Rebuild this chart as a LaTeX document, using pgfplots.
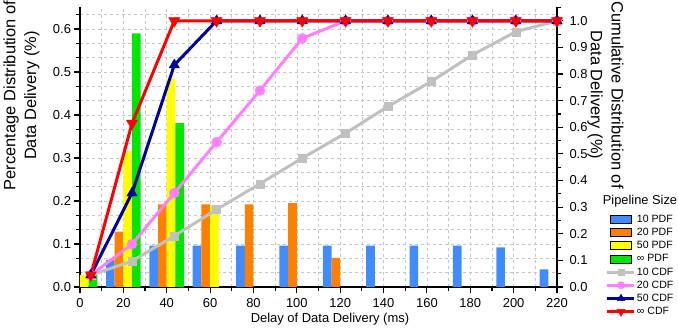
\documentclass[border=0pt]{standalone}
\usepackage{fontspec}
\setmainfont{Liberation Sans}
\usepackage{pgfplots}
\pgfplotsset{compat=1.18}
\definecolor{c10}{RGB}{64,140,255}
\definecolor{c20}{RGB}{255,128,0}
\definecolor{c50}{RGB}{255,255,0}
\definecolor{cinf}{RGB}{0,230,0}
\definecolor{l10}{RGB}{192,192,192}
\definecolor{l20}{RGB}{255,128,255}
\definecolor{l50}{RGB}{0,0,160}
\definecolor{linf}{RGB}{255,0,0}
\pgfplotsset{
  common/.style={width=477bp,height=279.5bp,scale only axis, xmin=0,xmax=220,
    tick align=outside, major tick length=5.5bp, minor tick length=3.5bp,
    every tick/.style={black, line width=1.1bp},
    axis line style={line width=1.7bp},
    tick label style={font=\fontsize{13}{15}\selectfont},
    /pgf/number format/assume math mode=true,
  },
  barleg/.style={legend image code/.code={\fill[##1] (3bp,-4bp) rectangle (24bp,4bp);}},
  lineleg/.style={legend image code/.code={\draw[mark repeat=2,mark phase=2,##1, every mark/.append style={scale=0.72}] plot coordinates {(0bp,0bp) (13.5bp,0bp) (27bp,0bp)};}},
}
\begin{document}
\begin{tikzpicture}
\path[use as bounding box] (-80bp,-48bp) rectangle (598bp,287bp);
\begin{axis}[common, ymin=0, ymax=0.65, axis x line*=bottom, axis y line*=left,
  xtick={0,20,40,60,80,100,120,140,160,180,200,220},
  minor xtick={10,30,50,70,90,110,130,150,170,190,210},
  ytick={0,0.1,0.2,0.3,0.4,0.5,0.6},
  minor ytick={0.03333,0.06667,0.13333,0.16667,0.23333,0.26667,0.33333,0.36667,0.43333,0.46667,0.53333,0.56667,0.63333},
  grid=both, grid style={dashed, gray!45, line width=0.6bp},
  major grid style={dashed, gray!45, line width=0.6bp},
  minor grid style={dashed, gray!45, line width=0.6bp},
  yticklabel style={/pgf/number format/.cd, fixed, fixed zerofill, precision=1},
  xticklabel style={yshift=-2.5bp},
  ylabel={Percentage Distribution of\\Data Delivery (\%)},
  ylabel style={at={(axis description cs:-0.1226,0.685)}, anchor=center, align=center, font=\fontsize{16.5}{21}\selectfont},
  xlabel={Delay of Data Delivery (ms)},
  xlabel style={at={(axis description cs:0.524,-0.1145)}, anchor=center, font=\fontsize{13}{15}\selectfont},
]
\addplot[ybar, bar width=4, bar shift=0pt, fill=c10, draw=none] coordinates {(14,0.063)(34,0.096)(54,0.096)(74,0.096)(94,0.096)(114,0.096)(134,0.096)(154,0.096)(174,0.096)(194,0.092)(214,0.041)};
\addplot[ybar, bar width=4, bar shift=0pt, fill=c20, draw=none] coordinates {(18,0.129)(38,0.192)(58,0.192)(78,0.192)(98,0.195)(118,0.068)};
\addplot[ybar, bar width=4, bar shift=0pt, fill=c50, draw=none] coordinates {(2,0.028)(22,0.316)(42,0.484)(62,0.190)};
\addplot[ybar, bar width=4, bar shift=0pt, fill=cinf, draw=none] coordinates {(6,0.028)(26,0.590)(46,0.381)};
\end{axis}
\begin{axis}[common, ymin=0, ymax=1.05, axis y line*=right, axis x line=none,
  ytick={0,0.1,0.2,0.3,0.4,0.5,0.6,0.7,0.8,0.9,1.0},
  minor ytick={0.05,0.15,0.25,0.35,0.45,0.55,0.65,0.75,0.85,0.95,1.05},
  yticklabel style={xshift=3.5bp, /pgf/number format/.cd, fixed, fixed zerofill, precision=1},
  ylabel={Cumulative Distribution of\\Data Delivery (\%)},
  ylabel style={at={(axis description cs:1.1017,0.687)}, anchor=center, rotate=180, align=center, font=\fontsize{16.5}{21}\selectfont},
  clip=false,
  legend style={at={(1.1027,0.2637)}, anchor=north west, draw=none, fill=none, inner sep=0pt, outer sep=0pt, row sep=1.2bp, font=\fontsize{10.6}{12}\selectfont, nodes={inner sep=1bp, text height=8bp, text depth=2bp}},
  legend cell align=left,
]
\addlegendimage{barleg, fill=c10}
\addlegendimage{barleg, fill=c20}
\addlegendimage{barleg, fill=c50}
\addlegendimage{barleg, fill=cinf}
\addplot[lineleg, l10, line width=3bp, mark=square*, mark size=4bp, mark options={solid, line width=0.4bp}] coordinates {(5,0.045)(24,0.097)(43.5,0.192)(63,0.291)(83,0.388)(102.5,0.484)(122.5,0.578)(142,0.678)(162,0.772)(181,0.872)(201,0.959)(220,1.0)};
\addplot[lineleg, l20, line width=3bp, mark=*, mark size=5bp, mark options={solid, line width=0.4bp}] coordinates {(5,0.045)(24,0.161)(43.5,0.353)(63,0.544)(83,0.738)(102.5,0.934)(122.5,1.0)(142,1.0)(162,1.0)(181,1.0)(201,1.0)(220,1.0)};
\addplot[lineleg, l50, line width=3bp, mark=triangle*, mark size=6bp, mark options={solid, line width=0.4bp}] coordinates {(5,0.045)(24,0.353)(43.5,0.834)(63,1.0)(83,1.0)(102.5,1.0)(122.5,1.0)(142,1.0)(162,1.0)(181,1.0)(201,1.0)(220,1.0)};
\addplot[lineleg, linf, line width=3bp, mark=triangle*, mark size=6.5bp, mark options={solid, rotate=180, line width=0.4bp}] coordinates {(5,0.045)(24,0.615)(43.5,1.0)(63,1.0)(83,1.0)(102.5,1.0)(122.5,1.0)(142,1.0)(162,1.0)(181,1.0)(201,1.0)(220,1.0)};
\legend{10 PDF, 20 PDF, 50 PDF, ∞ PDF, 10 CDF, 20 CDF, 50 CDF, ∞ CDF}
\node[font=\fontsize{12.9}{15}\selectfont] at (axis description cs:1.174,0.3077) {Pipeline Size};
\end{axis}
\end{tikzpicture}
\end{document}
